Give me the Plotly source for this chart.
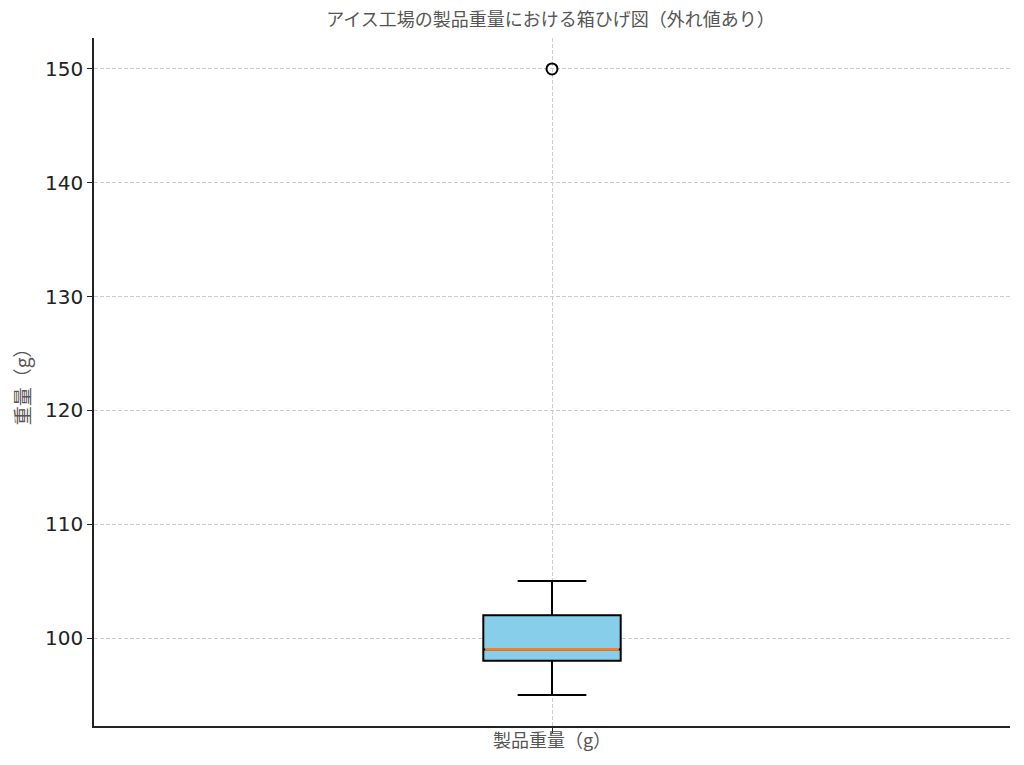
import plotly.graph_objects as go

# 箱ひげ図の統計値
categories = ["製品重量（g）"]
q1 = [98]
median = [99]
q3 = [102]
lower_whisker = [95]
upper_whisker = [105]
outliers = [150]

y_ticks = [100, 110, 120, 130, 140, 150]

pos = [1]
box_w = 0.15
jp_font = "Noto Sans CJK JP"

fig = go.Figure()
fig.add_trace(go.Box(
    x=pos, q1=q1, median=median, q3=q3,
    lowerfence=lower_whisker, upperfence=upper_whisker,
    width=box_w, whiskerwidth=0.5,
    fillcolor="#87CEEB", line=dict(color="black", width=2),
    boxpoints=False, showlegend=False, hoverinfo="skip",
))
# 中央値の線（オレンジ）
fig.add_trace(go.Scatter(
    x=[pos[0] - box_w / 2 + 0.002, pos[0] + box_w / 2 - 0.002], y=[median[0], median[0]],
    mode="lines", line=dict(color="#F07F2E", width=2.7), showlegend=False,
))
# 外れ値
fig.add_trace(go.Scatter(
    x=pos * len(outliers), y=outliers, mode="markers",
    marker=dict(symbol="circle-open", size=11, color="black", line=dict(width=2)),
    showlegend=False,
))

# ページの余白（8px）を考慮した配置
fig.update_layout(
    width=1016, height=757,
    margin=dict(l=83, r=14, t=30, b=39),
    plot_bgcolor="white", paper_bgcolor="white",
    title=dict(text="アイス工場の製品重量における箱ひげ図（外れ値あり）",
               x=(83 + (1002 - 83) / 2) / 1016, xanchor="center", y=1 - 12 / 757, yanchor="middle",
               font=dict(family=jp_font, size=18, color="#555555")),
    font=dict(family="DejaVu Sans", color="#222222"),
)
fig.update_xaxes(
    range=[0.5, 1.5], tickvals=pos, ticktext=[""],
    title=dict(text=categories[0], font=dict(family=jp_font, size=18, color="#555555"), standoff=0),
    showline=True, linecolor="#222222", linewidth=1.5,
    ticks="outside", ticklen=5, tickcolor="#222222",
    showgrid=True, gridcolor="#cccccc", griddash="4px,2px", gridwidth=1,
    zeroline=False,
)
fig.update_yaxes(
    range=[92.27, 152.72], tickvals=y_ticks,
    tickfont=dict(size=20, color="#222222"),
    title=dict(text="重量（g）", font=dict(family=jp_font, size=19, color="#555555"), standoff=12),
    showline=True, linecolor="#222222", linewidth=1.5,
    ticks="outside", ticklen=5, tickcolor="#222222",
    showgrid=True, gridcolor="#cccccc", griddash="4px,2px", gridwidth=1,
    zeroline=False,
)

fig.write_html("out.html")
